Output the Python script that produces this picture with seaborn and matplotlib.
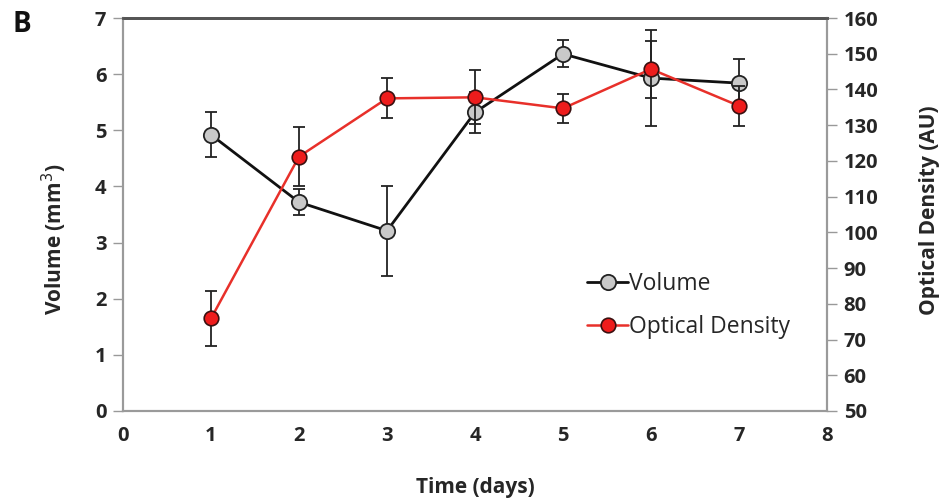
import matplotlib
matplotlib.use("Agg")
import matplotlib.pyplot as plt
import seaborn as sns
import pandas as pd
from matplotlib.lines import Line2D

days = [1, 2, 3, 4, 5, 6, 7]
volume = [4.92, 3.72, 3.21, 5.32, 6.36, 5.93, 5.84]
volume_err = [0.40, 0.23, 0.80, 0.37, 0.24, 0.86, 0.43]
density = [75.9, 121.2, 137.5, 137.8, 134.7, 145.7, 135.4]
density_err = [7.6, 8.3, 5.6, 7.6, 4.0, 8.0, 5.6]
x_ticks = [0, 1, 2, 3, 4, 5, 6, 7, 8]
left_ticks = [0, 1, 2, 3, 4, 5, 6, 7]
right_ticks = [50, 60, 70, 80, 90, 100, 110, 120, 130, 140, 150, 160]

sns.set_theme(style="white")
plt.rcParams['font.family'] = ['Open Sans', 'DejaVu Sans']

df = pd.DataFrame({"day": days, "volume": volume, "density": density})

W, H = 941, 500
fig = plt.figure(figsize=(W / 100, H / 100), dpi=100)
ax = fig.add_axes([123 / W, 1 - 411 / H, 704 / W, 393 / H])
ax2 = ax.twinx()

# Volume (left axis)
ax.errorbar(days, volume, yerr=volume_err, fmt='none', ecolor='#222222',
            elinewidth=1.3, capsize=4.5, capthick=1.3, zorder=2)
sns.lineplot(data=df, x="day", y="volume", ax=ax, color='#111111', linewidth=2.0,
             marker='o', markersize=11, markerfacecolor='#c9c9c9',
             markeredgecolor='#222222', markeredgewidth=1.3, zorder=3)

# Optical density (right axis)
ax2.errorbar(days, density, yerr=density_err, fmt='none', ecolor='#222222',
             elinewidth=1.3, capsize=4.5, capthick=1.3, zorder=2)
sns.lineplot(data=df, x="day", y="density", ax=ax2, color='#e8302a', linewidth=1.8,
             marker='o', markersize=10.5, markerfacecolor='#ee1c1c',
             markeredgecolor='#3a1010', markeredgewidth=1.2, zorder=3)

ax.set_xlim(0, 8)
ax.set_ylim(0, 7)
ax2.set_ylim(50, 160)
ax.set_xticks(x_ticks)
ax.set_yticks(left_ticks)
ax2.set_yticks(right_ticks)

tick_font = dict(fontsize=14.5, fontweight='bold', color='#262626')
ax.set_xticklabels([str(t) for t in x_ticks], **tick_font)
ax.set_yticklabels([str(t) for t in left_ticks], **tick_font)
ax2.set_yticklabels([str(t) for t in right_ticks], **tick_font)

ax.tick_params(axis='x', length=0, pad=11)
ax.tick_params(axis='y', direction='out', length=7, width=1, color='#999999', pad=5, left=True)
ax2.tick_params(axis='y', direction='out', length=7, width=1, color='#999999', pad=5, right=True)

for a in (ax, ax2):
    for side in ('left', 'right', 'bottom'):
        a.spines[side].set_color('#9a9a9a')
        a.spines[side].set_linewidth(1.5)
    a.spines['top'].set_color('#555555')
    a.spines['top'].set_linewidth(2.0)

ax.set_xlabel("")
ax.set_ylabel("")
ax2.set_ylabel("")
label_font = dict(fontsize=15, fontweight='bold', color='#262626')
fig.text(475 / W, 1 - 487 / H, "Time (days)", ha='center', va='center', **label_font)
fig.text(54 / W, 1 - 239 / H, "Volume (mm$^3$)", ha='center', va='center',
         rotation=90, **label_font)
fig.text(929 / W, 1 - 210 / H, "Optical Density (AU)", ha='center', va='center',
         rotation=90, **label_font)

fig.text(22 / W, 1 - 25 / H, "B", ha='center', va='center', fontsize=20,
         fontweight='bold', color='#111111')

handles = [
    Line2D([0], [0], color='#111111', linewidth=2.0, marker='o', markersize=11,
           markerfacecolor='#c9c9c9', markeredgecolor='#222222', markeredgewidth=1.3),
    Line2D([0], [0], color='#e8302a', linewidth=1.8, marker='o', markersize=10.5,
           markerfacecolor='#ee1c1c', markeredgecolor='#3a1010', markeredgewidth=1.2),
]
ax2.legend(handles, ["Volume", "Optical Density"], loc='upper left',
           bbox_to_anchor=(587 / W, 1 - 272 / H), bbox_transform=fig.transFigure,
           frameon=False, fontsize=16.5, handlelength=1.8, handletextpad=0.05,
           labelspacing=0.85, borderpad=0, borderaxespad=0)

fig.savefig("out.png", dpi=100)
